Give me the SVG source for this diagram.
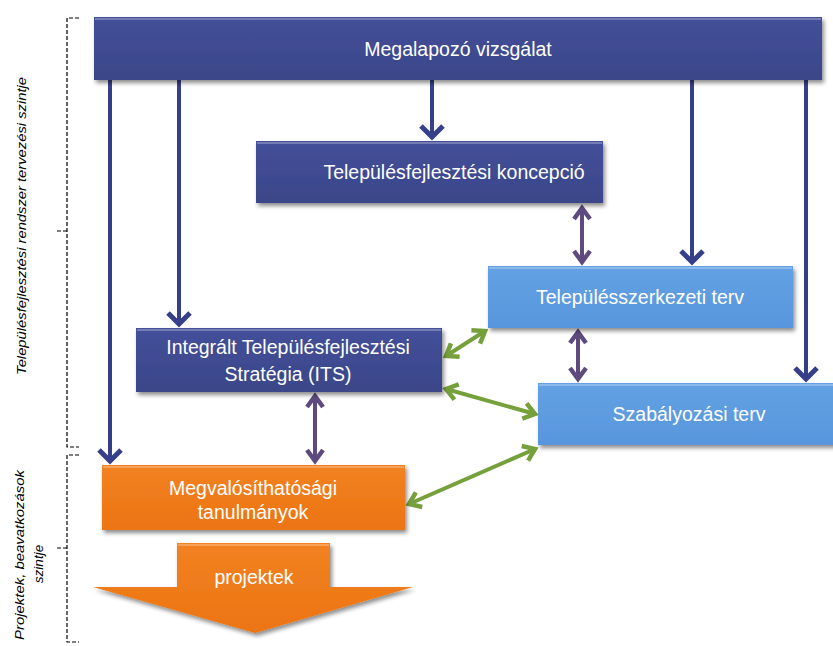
<svg xmlns="http://www.w3.org/2000/svg" width="833" height="646" viewBox="0 0 833 646">
<style>
.lbl{font-family:"Liberation Sans",Arial,sans-serif;font-size:19.5px;fill:#ffffff;text-anchor:middle}
.side{font-family:"Liberation Sans",Arial,sans-serif;font-size:13.5px;font-style:italic;fill:#000;text-anchor:middle}
.dk{fill:url(#gDark)}
.lb{fill:url(#gLight)}
.or{fill:url(#gOrange)}
.hl{stroke:#ffffff;stroke-opacity:0.35;stroke-width:1.5;fill:none}
.cd{stroke:#363f8a;stroke-width:4;fill:none;marker-end:url(#mD)}
.cp{stroke:#5e4a7e;stroke-width:4;fill:none;marker-end:url(#mP);marker-start:url(#mP)}
.cg{stroke:#76a03b;stroke-width:4;fill:none;marker-end:url(#mG);marker-start:url(#mG)}
.br{stroke:#000;stroke-width:1.2;fill:none;stroke-dasharray:4 2}
</style>
<defs>
<linearGradient id="gDark" x1="0" y1="0" x2="0" y2="1"><stop offset="0" stop-color="#44509a"/><stop offset="1" stop-color="#3a4688"/></linearGradient>
<linearGradient id="gLight" x1="0" y1="0" x2="0" y2="1"><stop offset="0" stop-color="#63a1e4"/><stop offset="1" stop-color="#5896dc"/></linearGradient>
<linearGradient id="gOrange" x1="0" y1="0" x2="0" y2="1"><stop offset="0" stop-color="#f28222"/><stop offset="1" stop-color="#ec7412"/></linearGradient>
<filter id="sh" x="-10%" y="-10%" width="120%" height="130%"><feDropShadow dx="2" dy="3" stdDeviation="2" flood-color="#000" flood-opacity="0.45"/></filter>
<marker id="mD" markerUnits="userSpaceOnUse" viewBox="-14 -14 18 28" markerWidth="18" markerHeight="28" refX="0" refY="0" orient="auto"><path d="M-11,-11 L0,0 L-11,11" stroke="#363f8a" stroke-width="5" fill="none" stroke-linejoin="miter"/></marker>
<marker id="mP" markerUnits="userSpaceOnUse" viewBox="-14 -14 18 28" markerWidth="18" markerHeight="28" refX="0" refY="0" orient="auto-start-reverse"><path d="M-11,-8 L0,0 L-11,8" stroke="#5e4a7e" stroke-width="4.5" fill="none"/></marker>
<marker id="mG" markerUnits="userSpaceOnUse" viewBox="-14 -14 18 28" markerWidth="18" markerHeight="28" refX="0" refY="0" orient="auto-start-reverse"><path d="M-11,-8 L0,0 L-11,8" stroke="#76a03b" stroke-width="4.5" fill="none"/></marker>
</defs>
<rect width="833" height="646" fill="#ffffff"/>

<g id="brackets">
<path class="br" d="M79,18 H67 V447 H79 M67,231 H56"/>
<path class="br" d="M79,455 H67 V642 H79 M67,548 H56"/>
<text class="side" transform="translate(26,226) rotate(-90)" textLength="298" lengthAdjust="spacingAndGlyphs">Településfejlesztési rendszer tervezési szintje</text>
<text class="side" transform="translate(24,555) rotate(-90)" textLength="170" lengthAdjust="spacingAndGlyphs">Projektek, beavatkozások</text>
<text class="side" transform="translate(43,564) rotate(-90)">szintje</text>
</g>

<g id="connectors">
<path class="cd" d="M110,80 V461"/>
<path class="cd" d="M179,80 V324"/>
<path class="cd" d="M432,80 V137"/>
<path class="cd" d="M692,80 V262"/>
<path class="cd" d="M806,80 V379"/>
<path class="cp" d="M582,208 V262"/>
<path class="cp" d="M578,332 V379"/>
<path class="cp" d="M315,396 V461"/>
<path class="cg" d="M446,356 L485,331"/>
<path class="cg" d="M446,389 L535,414"/>
<path class="cg" d="M409,504 L535,449"/>
</g>

<g id="n-megalapozo">
<rect class="dk" x="94" y="17" width="728" height="63" filter="url(#sh)"/>
<path class="hl" d="M95,19 H821"/>
<text class="lbl" x="458" y="56">Megalapozó vizsgálat</text>
</g>

<g id="n-koncepcio">
<rect class="dk" x="256" y="141" width="347" height="62" filter="url(#sh)"/>
<path class="hl" d="M257,143 H602"/>
<text class="lbl" x="454" y="179">Településfejlesztési koncepció</text>
</g>

<g id="n-szerkezeti">
<rect class="lb" x="488" y="266" width="305" height="62" filter="url(#sh)"/>
<path class="hl" d="M489,268 H792"/>
<text class="lbl" x="640" y="304">Településszerkezeti terv</text>
</g>

<g id="n-its">
<rect class="dk" x="136" y="328" width="306" height="64" filter="url(#sh)"/>
<path class="hl" d="M137,330 H441"/>
<text class="lbl" x="288" y="354">Integrált Településfejlesztési</text>
<text class="lbl" x="288" y="381">Stratégia (ITS)</text>
</g>

<g id="n-szabalyozasi">
<rect class="lb" x="538" y="383" width="300" height="62" filter="url(#sh)"/>
<path class="hl" d="M539,385 H833"/>
<text class="lbl" x="689" y="421">Szabályozási terv</text>
</g>

<g id="n-megvalosithatosagi">
<rect class="or" x="102" y="465" width="303" height="65" filter="url(#sh)"/>
<path class="hl" d="M103,467 H404"/>
<text class="lbl" x="253" y="495">Megvalósíthatósági</text>
<text class="lbl" x="253" y="519">tanulmányok</text>
</g>

<g id="n-projektek">
<polygon class="or" points="177,543 330,543 330,587 413,587 255,633 93,587 177,587" filter="url(#sh)"/>
<path class="hl" d="M178,545 H329"/>
<text class="lbl" x="254" y="584">projektek</text>
</g>
</svg>
